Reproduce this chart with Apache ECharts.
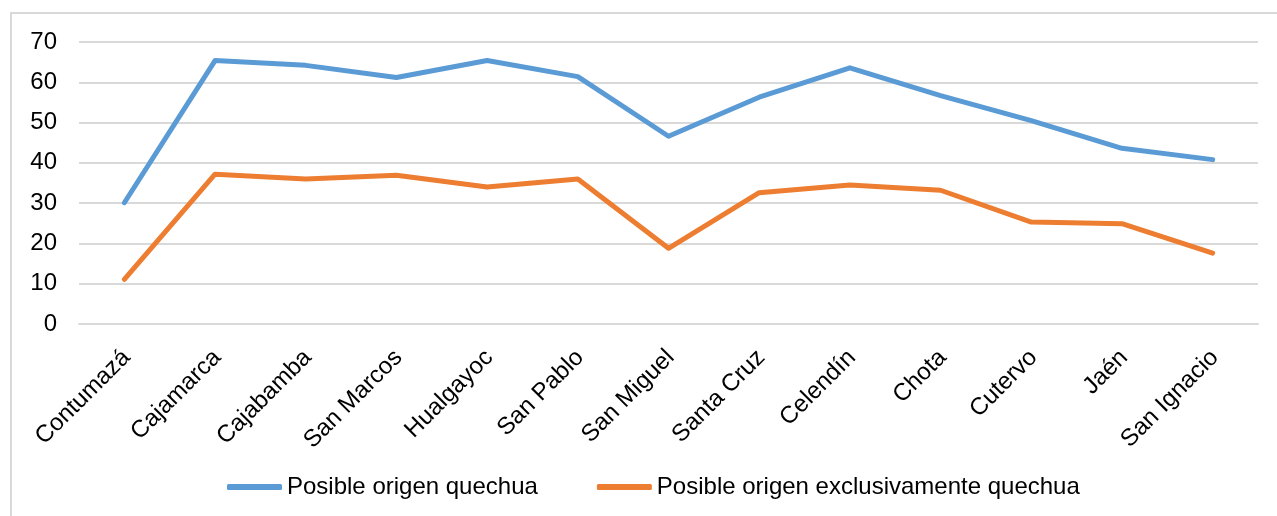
<!DOCTYPE html>
<html>
<head>
<meta charset="utf-8">
<script src="https://cdn.jsdelivr.net/npm/echarts@6/dist/echarts.min.js"></script>
<style>
html,body{margin:0;padding:0;background:#fff;}
#chart{width:1277px;height:516px;}
</style>
</head>
<body>
<div id="chart"></div>
<script>
const categories = ['Contumazá','Cajamarca','Cajabamba','San Marcos','Hualgayoc','San Pablo','San Miguel','Santa Cruz','Celendín','Chota','Cutervo','Jaén','San Ignacio'];
const posibleQuechua = [30.1, 65.4, 64.2, 61.2, 65.4, 61.4, 46.6, 56.3, 63.6, 56.7, 50.5, 43.6, 40.8];
const exclusivamenteQuechua = [11.1, 37.2, 36.0, 36.9, 34.0, 36.0, 18.8, 32.6, 34.5, 33.2, 25.3, 24.9, 17.6];
const seriesNames = ['Posible origen quechua', 'Posible origen exclusivamente quechua'];
const yMin = 0, yMax = 70, yStep = 10;

const chart = echarts.init(document.getElementById('chart'), null, {renderer: 'canvas'});
const font = 'Liberation Sans, Arial, sans-serif';
chart.setOption({
  animation: false,
  backgroundColor: '#ffffff',
  textStyle: {fontFamily: font},
  graphic: [{
    type: 'rect', silent: true,
    shape: {x: 11, y: 13, width: 1400, height: 700},
    style: {fill: 'none', stroke: '#d9d9d9', lineWidth: 2}
  }],
  grid: {left: 79, right: 19, top: 42, bottom: 192, outerBoundsMode: 'none', containLabel: false},
  legend: {
    left: 227, top: 475, padding: 0, itemGap: 59,
    itemWidth: 55, itemHeight: 6, icon: 'roundRect',
    textStyle: {fontFamily: font, fontSize: 24, color: '#000'},
    data: [
      {name: seriesNames[0], itemStyle: {color: '#5B9BD5'}},
      {name: seriesNames[1], itemStyle: {color: '#ED7D31'}}
    ]
  },
  xAxis: {
    type: 'category', data: categories, boundaryGap: true,
    axisLine: {show: true, lineStyle: {color: '#d9d9d9', width: 2}},
    axisTick: {show: false},
    axisLabel: {
      interval: 0, rotate: 45, margin: 15,
      align: 'right', verticalAlign: 'top', padding: [0, 9, 0, 0],
      fontFamily: font, fontSize: 24, color: '#000'
    }
  },
  yAxis: {
    type: 'value', min: yMin, max: yMax, interval: yStep,
    axisLine: {show: false}, axisTick: {show: false},
    splitLine: {lineStyle: {color: '#d9d9d9', width: 2}},
    axisLabel: {margin: 22, fontFamily: font, fontSize: 24, color: '#000'}
  },
  series: [
    {name: seriesNames[0], type: 'line', data: posibleQuechua, symbol: 'none',
     lineStyle: {color: '#5B9BD5', width: 5, cap: 'round', join: 'round'}, itemStyle: {color: '#5B9BD5'}},
    {name: seriesNames[1], type: 'line', data: exclusivamenteQuechua, symbol: 'none',
     lineStyle: {color: '#ED7D31', width: 5, cap: 'round', join: 'round'}, itemStyle: {color: '#ED7D31'}}
  ]
});
</script>
</body>
</html>
